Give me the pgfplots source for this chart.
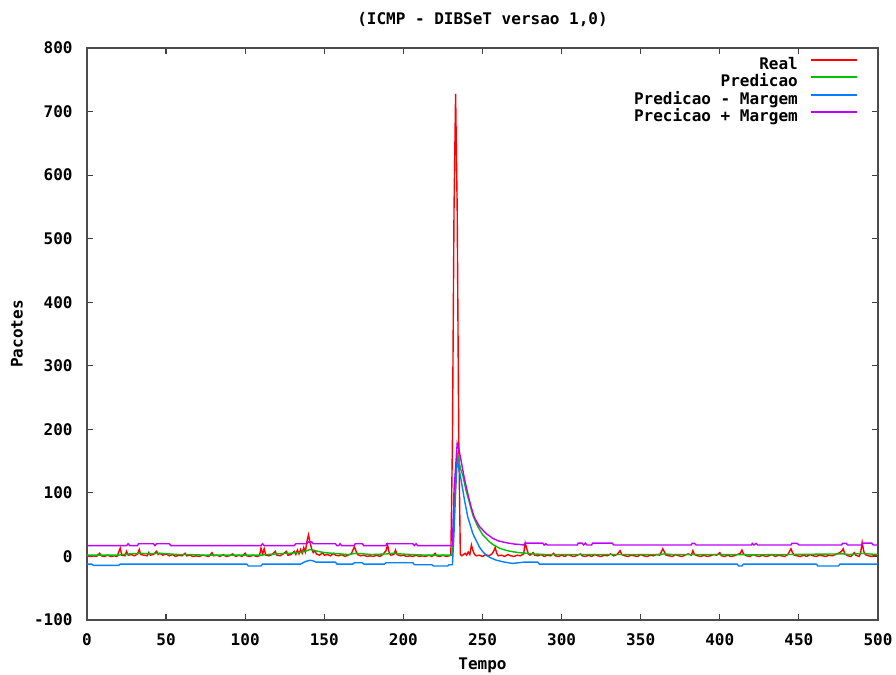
\documentclass[border=0pt]{standalone}
\usepackage{fontspec}
\usepackage{pgfplots}
\pgfplotsset{compat=1.18}
\newfontfamily\gpfamily{DejaVu Sans Mono}
\newcommand\gpfont{\gpfamily\bfseries\fontsize{8pt}{9pt}\selectfont}
\definecolor{gpred}{HTML}{FF0000}
\definecolor{gpgreen}{HTML}{00C000}
\definecolor{gpblue}{HTML}{0080FF}
\definecolor{gpmag}{HTML}{C000FF}
\begin{document}
\begin{tikzpicture}
\useasboundingbox (-43.5pt,-27.5pt) rectangle (404.5pt,310pt);
\begin{axis}[
  at={(0pt,0pt)}, anchor=south west,
  scale only axis, width=395.5pt, height=286pt,
  xmin=0, xmax=500, ymin=-100, ymax=800,
  xtick={0,50,100,150,200,250,300,350,400,450,500},
  xticklabels={0,50,100,150,200,250,300,350,400,450,500},
  ytick={-100,0,100,200,300,400,500,600,700,800},
  yticklabels={-100,0,100,200,300,400,500,600,700,800},
  xtick pos=both, ytick pos=both,
  tick align=inside, major tick length=3pt,
  every tick/.style={black!75, line width=0.6pt},
  axis line style={black!70, line width=0.9pt},
  ticklabel style={font=\gpfont, inner sep=0pt},
  xticklabel style={anchor=north, yshift=-6.6pt},
  yticklabel style={anchor=east, xshift=-7pt},
  every axis x label/.style={at={(axis description cs:0.5,-0.0787)}, anchor=center, font=\gpfont},
  every axis y label/.style={at={(axis description cs:-0.0885,0.5)}, rotate=90, anchor=center, font=\gpfont},
  every axis title/.style={at={(axis description cs:0.5,1.049)}, anchor=center, font=\gpfont},
  xlabel={Tempo}, ylabel={Pacotes},
  title={(ICMP - DIBSeT versao 1,0)},
  legend plot pos=right,
  legend cell align=right,
  legend style={at={(axis description cs:1,1)}, anchor=north east,
    xshift=-10pt, yshift=-4.5pt, inner sep=0pt, column sep=6pt, row sep=1.25pt,
    font=\gpfont, nodes={inner sep=0pt, text height=6pt, text depth=1.5pt}},
  every axis legend/.append style={draw=none, fill=none},
]
\addplot[color=gpred, line width=0.7pt,
  legend image code/.code={\path[draw=gpred, line width=0.9pt] (0pt,2.6pt) -- (23pt,2.6pt);}] coordinates {
(0,1)(2,0)(4,1)(6,0)(8,5)(9,1)(11,0)(13,2)(15,0)(17,1)(19,0)(21,13)(22,2)(24,1)(25,8)(26,2)(28,3)(30,1)(32,4)(33,11)(34,3)(36,2)(38,1)(39,6)(40,2)(42,3)(44,8)(45,3)(46,5)(48,2)(50,4)(52,1)(54,3)(56,0)(58,2)(60,1)(62,5)(63,1)(65,2)(67,0)(69,1)(71,0)(73,2)(75,1)(77,0)(79,6)(80,1)(82,2)(84,0)(86,3)(88,0)(90,1)(92,4)(94,0)(96,2)(98,0)(100,5)(101,1)(103,0)(105,2)(107,0)(109,1)(110,13)(111,4)(112,12)(113,2)(115,1)(117,3)(119,8)(120,2)(122,1)(124,4)(126,8)(127,2)(129,3)(131,8)(132,3)(133,10)(134,4)(135,11)(136,5)(137,14)(138,7)(139,23)(140,34)(141,22)(142,12)(143,6)(144,9)(145,4)(147,2)(149,6)(150,2)(152,3)(154,1)(156,5)(157,2)(159,1)(161,3)(163,0)(165,2)(167,4)(169,15)(170,9)(171,3)(173,1)(175,2)(177,0)(179,1)(181,0)(183,2)(185,0)(187,3)(189,9)(190,18)(191,6)(192,2)(194,3)(195,10)(196,3)(198,1)(200,2)(202,0)(204,1)(206,0)(208,2)(210,0)(212,1)(214,0)(216,2)(218,0)(220,5)(221,1)(223,0)(225,2)(227,0)(229,1)(230,2)
(231,180)(232,545)(233,728)(234,548)(235,183)(236,3)(237,1)(239,5)(240,2)(241,7)(242,3)(243,18)(244,9)(245,3)(246,1)(248,2)(250,0)(252,3)(254,1)(256,4)(257,8)(258,14)(259,5)(260,1)(262,2)(264,0)(266,3)(268,1)(270,0)(272,2)(274,1)(276,4)(277,21)(278,12)(279,4)(280,2)(282,6)(283,2)(285,1)(287,3)(289,0)(291,2)(293,1)(295,5)(296,1)(298,0)(300,2)(302,0)(304,3)(306,1)(308,0)(310,2)(312,4)(313,1)(315,0)(317,2)(319,0)(321,3)(323,1)(325,0)(327,2)(329,1)(331,4)(333,1)(335,3)(337,9)(338,3)(340,1)(342,0)(344,2)(346,1)(348,0)(350,3)(352,1)(354,0)(356,2)(358,1)(360,3)(362,2)(364,12)(365,7)(366,2)(368,1)(370,0)(372,3)(374,1)(376,0)(378,2)(380,4)(382,2)(383,9)(384,3)(386,1)(388,0)(390,2)(392,0)(394,1)(396,3)(398,2)(400,6)(401,1)(403,0)(405,2)(407,0)(409,1)(411,3)(413,5)(414,10)(415,4)(417,1)(419,0)(421,3)(423,1)(425,0)(427,2)(429,0)(431,1)(433,3)(435,0)(437,2)(439,1)(441,0)(443,3)(445,12)(446,6)(447,2)(449,1)(451,0)(453,2)(455,0)(457,3)(459,1)(461,0)(463,2)(465,1)(467,0)(469,2)(471,1)(473,3)(475,5)(477,8)(478,12)(479,4)(481,1)(483,0)(485,6)(486,2)(488,0)(489,5)(490,22)(491,8)(492,3)(494,1)(496,0)(498,2)(500,1)
};
\addlegendentry{Real}
\addplot[color=gpgreen, line width=0.7pt,
  legend image code/.code={\path[draw=gpgreen, line width=0.9pt] (0pt,2.6pt) -- (23pt,2.6pt);}] coordinates {
(0,2)(20,2)(22,3)(27,4)(34,5)(40,4)(46,5)(52,4)(58,3)(65,3)(75,2)(110,2)(113,3)(120,4)(128,5)(134,6)(138,8)(141,11)(143,10)(146,8)(150,6)(155,5)(160,4)(165,3)(170,5)(175,4)(180,3)(190,4)(193,5)(198,4)(205,3)(215,2)(231,2)
(232,70)(233,120)(234,162)(235,152)(236,139)(237.5,128)(239.6,104)(241.8,84)(243.9,65)(247,47)(250.2,34)(254.4,23)(257,18)(260.8,13)(265,9.5)(269.2,7.4)(273,6)(277.7,5)(282,4)(290,3)(300,3)(320,3)(340,3)(360,3)(365,4)(370,3)(400,3)(420,2.5)(440,3)(478,4)(482,3)(490,5)(494,4)(500,3)
};
\addlegendentry{Predicao}
\addplot[color=gpblue, line width=0.7pt,
  legend image code/.code={\path[draw=gpblue, line width=0.9pt] (0pt,2.6pt) -- (23pt,2.6pt);}] coordinates {
(0,-12)(3,-12)(4,-14)(20,-14)(21,-12)(101,-12)(102,-15)(110,-15)(111,-12)(135,-12)(138,-8)(141,-6)(143,-7)(145,-9)(157,-9)(158,-12)(168,-12)(169,-10)(174,-10)(175,-12)(188,-12)(189,-10)(206,-10)(207,-13)(218,-13)(219,-15)(228,-15)(229,-13)(231,-13)
(232,37)(233,100)(234,152)(235,140)(236.5,120)(238.6,89)(240.7,62)(243.9,36)(248,15)(250,8)(252.3,2)(255,-2)(258.5,-5.7)(263,-8.5)(269,-11)(276,-9)(285,-9)(286,-12)(411,-12)(412,-15)(414,-15)(415,-12)(461,-12)(462,-15)(475,-15)(476,-12)(500,-12)
};
\addlegendentry{Predicao - Margem}
\addplot[color=gpmag, line width=0.7pt,
  legend image code/.code={\path[draw=gpmag, line width=0.9pt] (0pt,2.6pt) -- (23pt,2.6pt);}] coordinates {
(0,17)(25,17)(26,20)(27,17)(32,17)(32.5,20)(42,20)(43,17)(44,20)(52,20)(53,17)(110,17)(111,20)(112,17)(131,17)(132,20)(139,20)(140,23)(142,23)(143,20)(157,20)(158,17)(159,17)(160,20)(161,17)(169,17)(169.5,20)(174,20)(175,17)(189,17)(189.5,20)(206,20)(207,17)(208,20)(209,17)(231,17)
(232,104)(233,140)(234,178)(235,170)(236,157)(238.6,122)(240.7,99)(242.8,78)(244.9,61)(248.1,47)(252.3,36)(256.5,28.5)(260,24.5)(264.9,21.6)(270,19.5)(273,19)(276,18)(277,21)(288,21)(289,18)(290,20)(291,18)(310,18)(310.5,21)(313,21)(314,18)(315,21)(316,18)(319,18)(319.5,21)(332,21)(333,18)(382,18)(382.5,20.5)(384,20.5)(385,18)(420,18)(420.5,20.5)(421.5,18)(423,20.5)(424,18)(445,18)(445.5,20.5)(449,20.5)(450,18)(477,18)(477.5,20.5)(480,20.5)(481,18)(490,18)(490.5,21)(496,21)(497,18)(500,18)
};
\addlegendentry{Precicao + Margem}
\end{axis}
\end{tikzpicture}
\end{document}
